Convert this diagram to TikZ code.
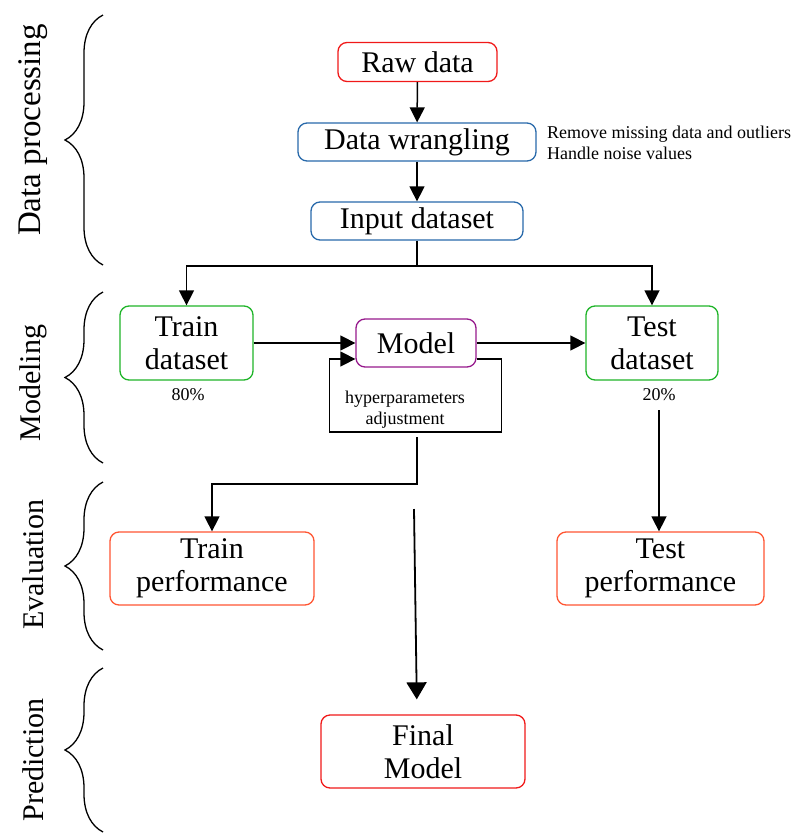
\documentclass[tikz,border=0pt]{standalone}
\usepackage{fontspec}
\setmainfont{Liberation Serif}
\usetikzlibrary{positioning,arrows.meta,decorations.pathreplacing}

\definecolor{rawred}{RGB}{240,25,25}
\definecolor{prepblue}{RGB}{40,105,170}
\definecolor{splitgreen}{RGB}{30,180,40}
\definecolor{modelpurple}{RGB}{150,25,140}
\definecolor{perforange}{RGB}{255,85,50}

\begin{document}
\begin{tikzpicture}[x=1pt,y=-1pt,
  box/.style={draw, rounded corners=9pt, line width=1.3pt, align=center, inner sep=0pt,
    font=\fontsize{30}{33}\selectfont},
  note/.style={font=\fontsize{18}{21}\selectfont, inner sep=0pt},
  arr/.style={-{Triangle[width=15pt,length=15pt]}, line width=1.5pt},
  side/.style={rotate=90, inner sep=0pt, font=\fontsize{30}{30}\selectfont},
  bracket/.style={decorate, decoration={brace, amplitude=38pt}, line width=1.3pt}]
\useasboundingbox (0,0) rectangle (802,833);

% stages on the left
\node[side, font=\fontsize{33}{33}\selectfont] (lblprep) at (33,130) {Data processing};
\node[side] (lblmodel) at (33,383) {Modeling};
\node[side] (lbleval) at (33,565) {Evaluation};
\node[side] (lblpred) at (33,760) {Prediction};
\draw[bracket] (103,265) -- (103,15);
\draw[bracket] (103,463) -- (103,292);
\draw[bracket] (103,650) -- (103,482);
\draw[bracket] (103,832) -- (103,668);

% data processing
\node[box, draw=rawred, minimum width=159pt, minimum height=39pt] (raw) at (417.5,62) {Raw data};
\node[box, draw=prepblue, minimum width=238pt, minimum height=38pt] (wrangle) at (417,142) {Data wrangling};
\node[box, draw=prepblue, minimum width=212pt, minimum height=38pt] (input) at (417,221) {Input dataset};
\node[note, anchor=west, align=left] (clean) at (547,143) {Remove missing data and outliers\\Handle noise values};

% modeling
\node[box, draw=splitgreen, minimum width=133pt, minimum height=74pt] (train) at (186.5,343) {Train\\dataset};
\node[box, draw=modelpurple, minimum width=120pt, minimum height=48pt] (model) at (416,343) {Model};
\node[box, draw=splitgreen, minimum width=132pt, minimum height=74pt] (test) at (652,343) {Test\\dataset};
\node[note] (perc80) at (188,395) {80\%};
\node[note] (perc20) at (659,395) {20\%};
\node[note, align=center] (hyper) at (405,410) {hyperparameters\\adjustment};

% evaluation and prediction
\node[box, draw=perforange, minimum width=204pt, minimum height=73pt] (trainperf) at (212,568.5) {Train\\performance};
\node[box, draw=perforange, minimum width=207pt, minimum height=73pt] (testperf) at (660.5,568.5) {Test\\performance};
\node[box, draw=rawred, minimum width=204pt, minimum height=73pt] (final) at (423,751.5) {Final\\Model};

% connectors
\coordinate (split) at (417,266);
\coordinate (tune) at (417,437);
\coordinate (pick) at (414,509);
\draw[arr] (raw) -- (wrangle);
\draw[arr] (wrangle) -- (input);
\draw[line width=1.5pt] (input) -- (split);
\draw[arr] (split) -| (train.north);
\draw[arr] (split) -| (test.north);
\draw[arr] (train) -- (model);
\draw[arr] (model) -- (test);
\draw[arr] ([yshift=-16pt]model.east) -- ++(25,0) -- ++(0,73) -- ++(-172,0) -- ++(0,-73)
  -- ([yshift=-16pt]model.west);
\draw[arr] (tune) -- ++(0,47) -| (trainperf.north);
\draw[arr, shorten <=9pt] (perc20.south) -- (perc20.south |- testperf.north);
\draw[-{Triangle[width=20pt,length=17pt]}, line width=1.8pt, shorten >=15pt] (pick) -- ([xshift=-6pt]final.north);
\end{tikzpicture}
\end{document}
